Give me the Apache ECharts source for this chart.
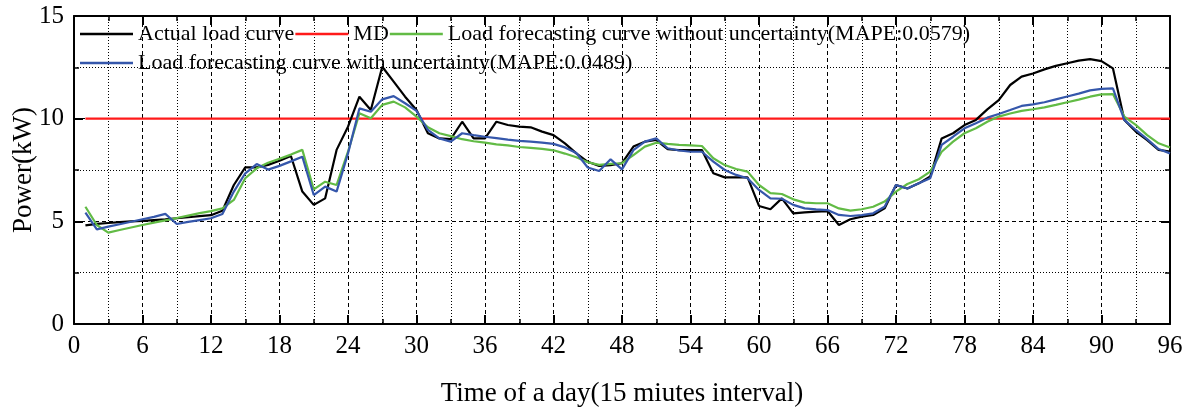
<!DOCTYPE html>
<html>
<head>
<meta charset="utf-8">
<script src="https://cdn.jsdelivr.net/npm/echarts@6/dist/echarts.min.js"></script>
<style>
html,body{margin:0;padding:0;background:#fff;}
#chart{width:1189px;height:408px;}
</style>
</head>
<body>
<div id="chart"></div>
<script>
const timeSlots = [1,2,3,4,5,6,7,8,9,10,11,12,13,14,15,16,17,18,19,20,21,22,23,24,25,26,27,28,29,30,31,32,33,34,35,36,37,38,39,40,41,42,43,44,45,46,47,48,49,50,51,52,53,54,55,56,57,58,59,60,61,62,63,64,65,66,67,68,69,70,71,72,73,74,75,76,77,78,79,80,81,82,83,84,85,86,87,88,89,90,91,92,93,94,95,96];

const actualLoad = [4.80,4.88,4.92,4.96,5.00,5.02,5.06,5.10,5.15,5.20,5.25,5.30,5.52,6.77,7.63,7.63,7.75,7.95,8.18,6.45,5.80,6.12,8.48,9.61,11.07,10.42,12.53,11.80,11.07,10.42,9.29,9.04,9.00,9.85,9.04,9.04,9.85,9.69,9.61,9.58,9.37,9.20,8.80,8.31,7.90,7.70,7.74,7.83,8.64,8.88,8.96,8.51,8.47,8.47,8.47,7.34,7.14,7.14,7.14,5.75,5.59,6.12,5.39,5.44,5.47,5.50,4.82,5.10,5.23,5.31,5.63,6.77,6.60,6.85,7.18,9.04,9.29,9.69,9.94,10.45,10.90,11.64,12.05,12.20,12.40,12.57,12.70,12.83,12.90,12.80,12.45,9.94,9.37,8.95,8.48,8.40];

const forecastWithout = [5.71,4.82,4.45,4.58,4.70,4.82,4.94,5.05,5.16,5.28,5.40,5.50,5.63,6.04,7.10,7.58,7.85,8.05,8.25,8.48,6.56,6.93,6.77,8.39,10.26,10.02,10.67,10.83,10.55,10.10,9.58,9.29,9.15,9.00,8.90,8.83,8.75,8.70,8.62,8.58,8.53,8.46,8.30,8.12,7.88,7.75,7.80,7.83,8.23,8.64,8.83,8.77,8.72,8.70,8.67,8.07,7.74,7.55,7.42,6.77,6.37,6.33,6.07,5.91,5.88,5.88,5.63,5.52,5.59,5.71,5.96,6.45,6.82,7.05,7.42,8.39,8.88,9.29,9.53,9.85,10.10,10.25,10.38,10.46,10.55,10.67,10.80,10.93,11.07,11.18,11.20,10.10,9.70,9.20,8.80,8.60];

const forecastWith = [5.42,4.61,4.74,4.86,4.98,5.10,5.22,5.36,4.87,4.97,5.06,5.15,5.36,6.45,7.34,7.79,7.52,7.70,7.92,8.15,6.28,6.69,6.45,8.31,10.50,10.34,10.94,11.10,10.75,10.38,9.45,9.04,8.88,9.29,9.20,9.12,9.05,8.98,8.92,8.88,8.83,8.77,8.60,8.33,7.62,7.45,8.02,7.53,8.47,8.88,9.04,8.56,8.45,8.39,8.39,7.91,7.50,7.26,7.10,6.53,6.12,6.10,5.80,5.63,5.58,5.55,5.31,5.26,5.30,5.39,5.71,6.77,6.60,6.85,7.10,8.72,9.12,9.53,9.78,10.05,10.23,10.42,10.62,10.70,10.80,10.94,11.08,11.22,11.38,11.45,11.48,9.94,9.45,9.00,8.52,8.31];

const mdValue = 10;
const mdRange = [1, 96];

const seriesNames = [
  'Actual load curve',
  'MD',
  'Load forecasting curve without uncertainty(MAPE:0.0579)',
  'Load forecasting curve with uncertainty(MAPE:0.0489)'
];
const xAxisName = 'Time of a day(15 miutes interval)';
const yAxisName = 'Power(kW)';

const FONT = '"Liberation Serif", "Times New Roman", serif';
const pairs = (ys) => timeSlots.map((x, i) => [x, ys[i]]);

const baseAxis = {
  axisLine: { show: true, onZero: false, lineStyle: { color: '#000', width: 2 } },
  axisTick: { show: true, inside: true, length: 9, lineStyle: { color: '#000', width: 2 } },
  minorTick: { show: true, splitNumber: 2, length: 5, lineStyle: { color: '#000', width: 1.5 } }
};

const legendBase = {
  left: 80, padding: 0, itemWidth: 53, itemHeight: 2.5, itemGap: 1, icon: 'rect',
  textStyle: { fontFamily: FONT, fontSize: 22, color: '#000' }
};

const chart = echarts.init(document.getElementById('chart'), null, { renderer: 'canvas' });
chart.setOption({
  animation: false,
  backgroundColor: '#fff',
  grid: { left: 74, right: 19, top: 16, bottom: 84, containLabel: false, outerBoundsMode: 'none' },
  legend: [
    Object.assign({}, legendBase, { top: 23, data: seriesNames.slice(0, 3) }),
    Object.assign({}, legendBase, { top: 52, data: seriesNames.slice(3) })
  ],
  xAxis: [
    Object.assign({}, baseAxis, {
      type: 'value', min: 0, max: 96, interval: 6, position: 'bottom',
      name: xAxisName, nameLocation: 'middle', nameGap: 56, nameMoveOverlap: false,
      nameTextStyle: { fontFamily: FONT, fontSize: 27, color: '#000' },
      axisLabel: { fontFamily: FONT, fontSize: 25, color: '#000', margin: 10 },
      splitLine: { show: true, lineStyle: { color: '#000', width: 1, type: [4, 3] } },
      minorSplitLine: { show: true, lineStyle: { color: '#000', width: 1, type: [1, 2] } }
    }),
    Object.assign({}, baseAxis, {
      type: 'value', min: 0, max: 96, interval: 6, position: 'top',
      axisLabel: { show: false }, splitLine: { show: false }
    })
  ],
  yAxis: [
    Object.assign({}, baseAxis, {
      type: 'value', min: 0, max: 15, interval: 5, position: 'left',
      name: yAxisName, nameLocation: 'middle', nameGap: 37, nameMoveOverlap: false,
      nameTextStyle: { fontFamily: FONT, fontSize: 27, color: '#000' },
      axisLabel: { fontFamily: FONT, fontSize: 25, color: '#000', margin: 10 },
      splitLine: { show: true, lineStyle: { color: '#000', width: 1, type: [4, 3] } },
      minorSplitLine: { show: true, lineStyle: { color: '#000', width: 1, type: [1, 2] } }
    }),
    Object.assign({}, baseAxis, {
      type: 'value', min: 0, max: 15, interval: 5, position: 'right',
      axisLabel: { show: false }, splitLine: { show: false }
    })
  ],
  series: [
    {
      name: seriesNames[1], type: 'line', symbol: 'none', silent: true,
      data: mdRange.map(x => [x, mdValue]),
      lineStyle: { color: '#ff1a1a', width: 2.2 }, itemStyle: { color: '#ff1a1a' }
    },
    {
      name: seriesNames[0], type: 'line', symbol: 'none',
      data: pairs(actualLoad),
      lineStyle: { color: '#000000', width: 2.2 }, itemStyle: { color: '#000000' }
    },
    {
      name: seriesNames[2], type: 'line', symbol: 'none',
      data: pairs(forecastWithout),
      lineStyle: { color: '#62bb45', width: 2.2 }, itemStyle: { color: '#62bb45' }
    },
    {
      name: seriesNames[3], type: 'line', symbol: 'none',
      data: pairs(forecastWith),
      lineStyle: { color: '#3557ab', width: 2.2 }, itemStyle: { color: '#3557ab' }
    }
  ]
});
</script>
</body>
</html>
